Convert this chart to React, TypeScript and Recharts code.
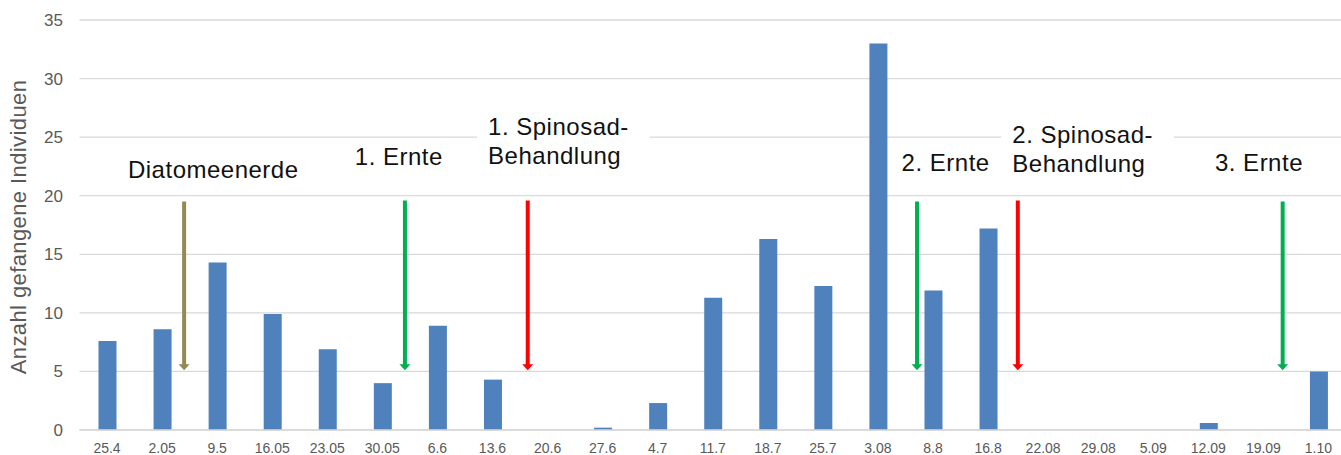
import React from "react";
import {
  BarChart,
  Bar,
  XAxis,
  YAxis,
  CartesianGrid,
  ReferenceLine,
  ReferenceDot,
} from "recharts";

// sampling dates (x categories)
const dates = [
  "25.4", "2.05", "9.5", "16.05", "23.05", "30.05", "6.6", "13.6", "20.6", "27.6", "4.7", "11.7",
  "18.7", "25.7", "3.08", "8.8", "16.8", "22.08", "29.08", "5.09", "12.09", "19.09", "1.10",
];

// trapped individuals per date
const catches = [
  7.6, 8.6, 14.3, 9.9, 6.9, 4.0, 8.9, 4.3, 0, 0.2, 2.3, 11.3,
  16.3, 12.3, 33, 11.9, 17.2, 0, 0, 0, 0.6, 0, 5,
];

const yTicks = [0, 5, 10, 15, 20, 25, 30, 35];

// treatment arrows, placed in category-index units
const arrows = [
  { pos: 1.4, from: 19.5, to: 5.1, kind: "diatom" },
  { pos: 5.41, from: 19.6, to: 5.1, kind: "harvest" },
  { pos: 7.64, from: 19.6, to: 5.1, kind: "spinosad" },
  { pos: 14.71, from: 19.5, to: 5.1, kind: "harvest" },
  { pos: 16.54, from: 19.6, to: 5.1, kind: "spinosad" },
  { pos: 21.35, from: 19.5, to: 5.1, kind: "harvest" },
];

// annotation texts (left edge index, first baseline value)
const notes = [
  { pos: 0.38, at: 21.5, lines: ["Diatomeenerde"] },
  { pos: 4.5, at: 22.6, lines: ["1. Ernte"] },
  { pos: 6.92, at: 25.2, lines: ["1. Spinosad-", "Behandlung"] },
  { pos: 14.43, at: 22.1, lines: ["2. Ernte"] },
  { pos: 16.44, at: 24.5, lines: ["2. Spinosad-", "Behandlung"] },
  { pos: 20.12, at: 22.1, lines: ["3. Ernte"] },
];

const arrowColor: Record<string, string> = {
  diatom: "#948A54",
  harvest: "#00B050",
  spinosad: "#FF0000",
};

const data = dates.map((d, i) => ({ date: d, idx: i, count: catches[i] }));

const FONT = "'Liberation Sans', Arial, sans-serif";
const NOTE_SIZE = 24;
const LINE_H = 29;

const Arrow = (props: any) => {
  const { x1, y1, x2, y2, stroke } = props;
  if (x1 == null || y1 == null) return null;
  const head = 6;
  return (
    <g>
      <line x1={x1} y1={y1} x2={x2} y2={y2 - head + 1} stroke={stroke} strokeWidth={4} />
      <polygon
        points={`${x2 - 5.5},${y2 - head} ${x2 + 5.5},${y2 - head} ${x2},${y2}`}
        fill={stroke}
      />
    </g>
  );
};

const Note = ({ cx, cy, lines }: any) => {
  if (cx == null || cy == null) return null;
  const longest = Math.max(...lines.map((l: string) => l.length));
  const w = longest * NOTE_SIZE * 0.53 + 20;
  const top = cy - NOTE_SIZE * 0.95;
  const h = (lines.length - 1) * LINE_H + NOTE_SIZE * 1.25;
  return (
    <g>
      <rect x={cx - 11} y={top} width={w} height={h} fill="#fff" />
      {lines.map((l: string, i: number) => (
        <text
          key={l}
          x={cx}
          y={cy + i * LINE_H}
          fontSize={NOTE_SIZE}
          fontFamily={FONT}
          letterSpacing={0.5}
          fill="#111"
        >
          {l}
        </text>
      ))}
    </g>
  );
};

const YTitle = ({ viewBox }: any) => {
  const cy = viewBox.y + viewBox.height / 2 + 2;
  const cx = 18;
  return (
    <text
      x={cx}
      y={cy}
      transform={`rotate(-90, ${cx}, ${cy})`}
      textAnchor="middle"
      dominantBaseline="central"
      fontSize={22}
      letterSpacing={0.4}
      fontFamily={FONT}
      fill="#595959"
    >
      Anzahl gefangene Individuen
    </text>
  );
};

export default function App() {
  return (
    <div
      style={{
        position: "absolute",
        left: 0,
        top: 0,
        width: 1341,
        height: 455,
        overflow: "hidden",
        background: "#fff",
      }}
    >
      <BarChart
        width={1350}
        height={455}
        data={data}
        margin={{ top: 20, right: 4, left: 0, bottom: 0 }}
      >
        <CartesianGrid xAxisId="cat" vertical={false} stroke="#D9D9D9" strokeWidth={1.3} />
        <XAxis
          xAxisId="cat"
          dataKey="date"
          height={25}
          axisLine={{ stroke: "#D9D9D9", strokeWidth: 1.3 }}
          tickLine={false}
          interval={0}
          tickMargin={7}
          tick={{ fontSize: 14, fill: "#595959", fontFamily: FONT }}
        />
        <XAxis xAxisId="pos" dataKey="idx" type="number" domain={[-0.5, 22.5]} hide allowDataOverflow />
        <YAxis
          width={79.5}
          domain={[0, 35]}
          ticks={yTicks}
          interval={0}
          axisLine={false}
          tickLine={false}
          tickMargin={10.5}
          tick={{ fontSize: 17, fill: "#595959", fontFamily: FONT }}
          label={{ content: YTitle }}
        />
        <Bar
          xAxisId="cat"
          dataKey="count"
          fill="#4F81BD"
          barSize={18}
          isAnimationActive={false}
        />
        {arrows.map((a, i) => (
          <ReferenceLine
            key={"a" + i}
            xAxisId="pos"
            segment={[
              { x: a.pos, y: a.from },
              { x: a.pos, y: a.to },
            ]}
            stroke={arrowColor[a.kind]}
            shape={Arrow}
          />
        ))}
        {notes.map((n, i) => (
          <ReferenceDot
            key={"n" + i}
            xAxisId="pos"
            x={n.pos}
            y={n.at}
            r={0}
            shape={(p: any) => <Note {...p} lines={n.lines} />}
          />
        ))}
      </BarChart>
    </div>
  );
}
